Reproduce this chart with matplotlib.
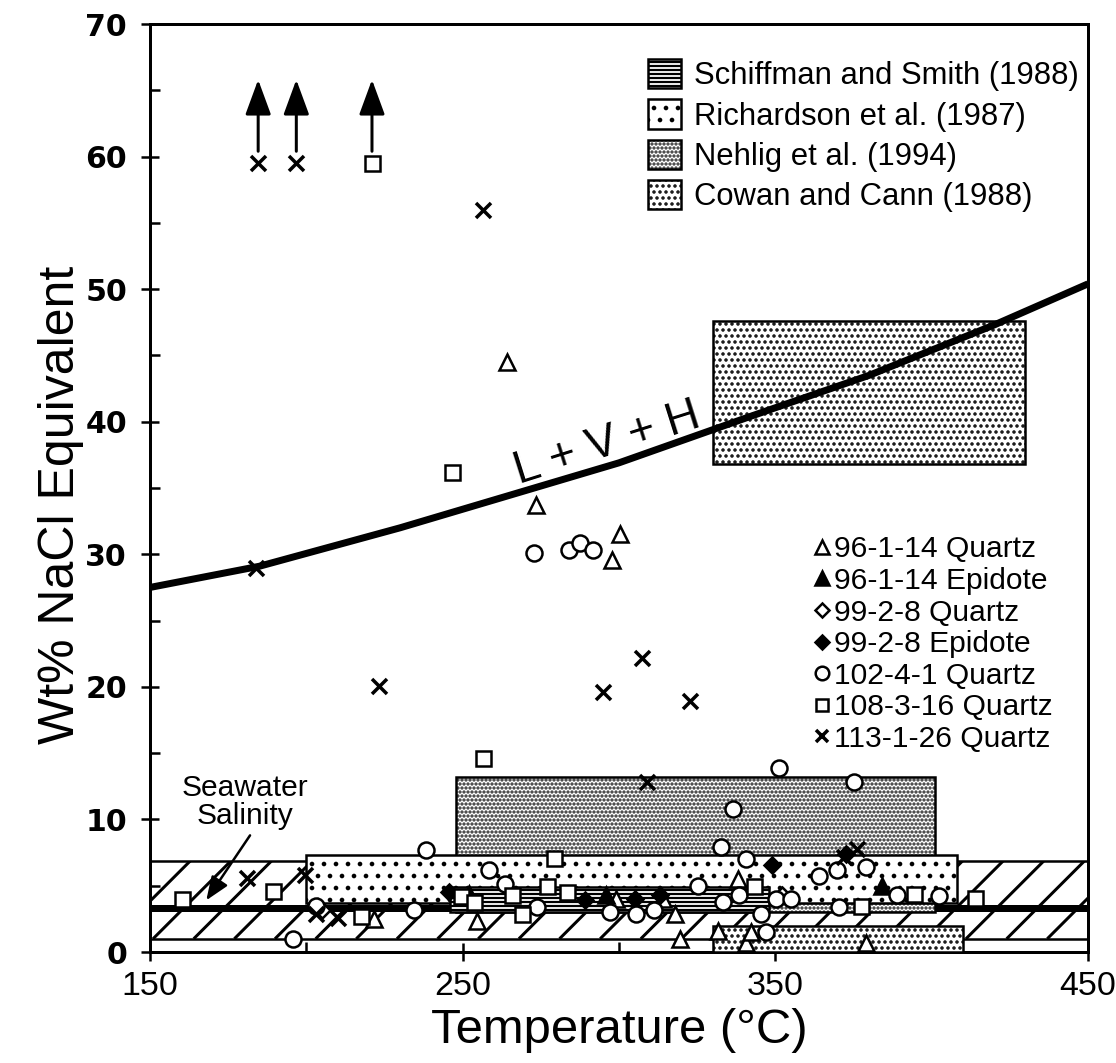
import numpy as np
import matplotlib
matplotlib.use("Agg")
import matplotlib.pyplot as plt
from matplotlib.patches import Rectangle, Patch
from matplotlib.lines import Line2D

plt.rcParams["font.family"] = ["Liberation Sans", "DejaVu Sans"]
plt.rcParams["hatch.linewidth"] = 2.2

# ---------------- data ----------------
# L + V + H (halite saturation) curve
curve_T = [150, 185, 230, 270, 300, 342, 380, 420, 450]
curve_W = [27.5, 29.1, 32.0, 34.8, 36.9, 40.4, 43.5, 47.3, 50.4]

# fields from the literature: (T min, T max, W min, W max)
schiffman_boxes = [(246, 348, 3.0, 4.9)]
richardson_boxes = [(200, 408, 3.7, 7.3)]
nehlig_boxes = [(248, 401, 3.0, 13.2)]
cowan_boxes = [(330, 430, 36.8, 47.6), (330, 410, 0.0, 2.0)]
vent_band = (150, 450, 1.0, 6.9)
seawater_W = 3.3

# fluid inclusions
q96_T = [264.3, 273.6, 300.3, 297.9, 221.7, 254.7, 299.2, 314.1, 317.8, 319.4,
         331.6, 338.0, 340.6, 342.2, 378.9]
q96_W = [44.5, 33.7, 31.5, 29.6, 2.5, 2.35, 4.0, 4.0, 2.9, 1.0,
         1.6, 5.5, 0.7, 1.5, 0.7]

e96_T = [384.2, 252.0, 296.0]
e96_W = [5.0, 4.4, 4.3]

q99_T = [205.0, 352.0]
q99_W = [3.2, 4.3]

e99_T = [245.5, 289.0, 305.0, 313.0, 349.0, 372.5]
e99_W = [4.5, 3.9, 4.0, 4.3, 6.6, 7.4]

c102_T = [272.7, 283.9, 287.6, 291.6, 238.2, 258.4, 263.7, 273.8, 203.2, 234.5,
          195.8, 297.1, 305.6, 311.1, 325.3, 333.2, 338.5, 340.7, 332.7, 336.4,
          345.4, 347.0, 350.2, 355.0, 364.0, 369.8, 370.4, 378.9, 388.9, 375.2,
          351.3, 402.2]
c102_W = [30.1, 30.3, 30.85, 30.3, 7.7, 6.2, 5.1, 3.4, 3.5, 3.2,
          1.0, 3.0, 2.9, 3.2, 5.0, 3.8, 4.3, 7.0, 7.9, 10.8,
          2.9, 1.5, 4.0, 4.0, 5.7, 6.2, 3.4, 6.4, 4.3, 12.8,
          13.9, 4.2]

s108_T = [221.0, 246.6, 256.4, 160.2, 189.5, 217.5, 249.4, 253.6, 265.8, 269.0,
          279.1, 277.0, 283.3, 343.3, 377.3, 413.9, 394.3]
s108_W = [59.5, 36.2, 14.6, 4.0, 4.6, 2.7, 4.2, 3.75, 4.3, 2.9,
          7.1, 5.0, 4.5, 5.0, 3.5, 4.1, 4.4]

x113_T = [184.6, 196.8, 256.5, 184.0, 223.2, 294.9, 307.3, 322.6, 309.0, 180.9,
          199.5, 203.0, 210.1, 372.0, 376.0]
x113_W = [59.5, 59.5, 56.0, 29.0, 20.1, 19.6, 22.2, 18.9, 12.8, 5.6,
          5.8, 2.9, 2.6, 7.2, 7.8]

x_ticks = [150, 250, 350, 450]
y_ticks = [0, 10, 20, 30, 40, 50, 60, 70]

# ---------------- figure ----------------
fig = plt.figure(figsize=(1116 / 72, 1063 / 72), dpi=72)
ax = fig.add_axes([0.1344, 0.1044, 0.8405, 0.873])
ax.set_xlim(150, 450)
ax.set_ylim(0, 70)

# diagonal-hatched band (drawn by hand: matplotlib's '/' is too dense)
bt0, bt1, bw0, bw1 = vent_band
band = Rectangle((bt0, bw0), bt1 - bt0, bw1 - bw0, fill=False,
                 edgecolor="black", lw=2.5, zorder=1)
ax.add_patch(band)
px_per_T = 938 / 300
px_per_W = 928 / 70
dT = (bw1 - bw0) * px_per_W / px_per_T
for t0 in np.arange(bt0 - dT, bt1, 13.0):
    ln, = ax.plot([t0, t0 + dT], [bw0, bw1], color="black", lw=3,
                  solid_capstyle="butt", zorder=1)
    ln.set_clip_path(band)

# seawater salinity
ax.plot([150, 450], [seawater_W, seawater_W], color="black", lw=7,
        solid_capstyle="butt", zorder=2)


def draw_field(boxes, hatch, z):
    for t0, t1, w0, w1 in boxes:
        ax.add_patch(Rectangle((t0, w0), t1 - t0, w1 - w0, facecolor="white",
                               edgecolor="black", hatch=hatch, lw=2.5, zorder=z))


draw_field(nehlig_boxes, "...", 3)
draw_field(richardson_boxes, ".", 4)
draw_field(schiffman_boxes, "---", 5)
draw_field(cowan_boxes, "..", 5)

# L + V + H curve
ax.plot(curve_T, curve_W, color="black", lw=7, solid_joinstyle="round",
        solid_capstyle="butt", zorder=6)
ax.text(268, 35.3, "L + V + H", rotation=17.5, rotation_mode="anchor",
        ha="left", va="baseline", fontsize=46, zorder=7)

# inclusion data
ms, mew = 16, 2.5
series = [
    (q96_T, q96_W, dict(marker="^", mfc="white"), "96-1-14 Quartz"),
    (e96_T, e96_W, dict(marker="^", mfc="black"), "96-1-14 Epidote"),
    (q99_T, q99_W, dict(marker="D", mfc="white", ms=11), "99-2-8 Quartz"),
    (e99_T, e99_W, dict(marker="D", mfc="black", ms=11), "99-2-8 Epidote"),
    (c102_T, c102_W, dict(marker="o", mfc="white"), "102-4-1 Quartz"),
    (s108_T, s108_W, dict(marker="s", mfc="white", ms=15), "108-3-16 Quartz"),
    (x113_T, x113_W, dict(marker="x", ms=15, mew=3.5), "113-1-26 Quartz"),
]
handles = []
for T, W, style, label in series:
    kw = dict(ls="none", mec="black", color="black", ms=ms, mew=mew)
    kw.update(style)
    ax.plot(T, W, zorder=10, **kw)
    handles.append(Line2D([], [], label=label, **kw))
    # values above the plot range are shown with an upward arrow
    for t, w in zip(T, W):
        if w >= 59:
            ax.annotate("", xy=(t, w + 6.3), xytext=(t, w + 0.9),
                        arrowprops=dict(arrowstyle="-|>,head_length=0.6,head_width=0.22",
                                        mutation_scale=50, lw=3, color="black",
                                        shrinkA=0, shrinkB=0), zorder=11)

# seawater label
ax.text(180.3, 9.2, "Seawater\nSalinity", ha="center", va="bottom",
        fontsize=30, linespacing=1.0, zorder=12)
ax.annotate("", xy=(168, 3.9), xytext=(182, 8.8),
            arrowprops=dict(arrowstyle="-|>,head_length=0.5,head_width=0.2",
                            mutation_scale=40, lw=2.5, color="black",
                            shrinkA=0, shrinkB=0), zorder=12)

# legends
field_handles = [
    Patch(facecolor="white", edgecolor="black", hatch="---", lw=2.5,
          label="Schiffman and Smith (1988)"),
    Patch(facecolor="white", edgecolor="black", hatch=".", lw=2.5,
          label="Richardson et al. (1987)"),
    Patch(facecolor="white", edgecolor="black", hatch="...", lw=2.5,
          label="Nehlig et al. (1994)"),
    Patch(facecolor="white", edgecolor="black", hatch="..", lw=2.5,
          label="Cowan and Cann (1988)"),
]
leg1 = ax.legend(handles=field_handles, loc="upper left",
                 bbox_to_anchor=(0.531, 0.962), frameon=False, fontsize=31,
                 handlelength=1.07, handleheight=1.07, handletextpad=0.4,
                 labelspacing=0.26, borderpad=0, borderaxespad=0)
ax.add_artist(leg1)
ax.legend(handles=handles, loc="upper left", bbox_to_anchor=(0.708, 0.449),
          frameon=False, fontsize=30, handlelength=0.55, handletextpad=0.1,
          labelspacing=0.12, borderpad=0, borderaxespad=0, markerscale=0.85)

# axes styling
for sp in ax.spines.values():
    sp.set_linewidth(3)
ax.set_xticks(x_ticks)
ax.set_xticks([200, 300, 400], minor=True)
ax.set_yticks(y_ticks)
ax.set_yticks(np.arange(5, 70, 10), minor=True)
ax.tick_params(which="major", direction="inout", length=18, width=2.5)
ax.tick_params(which="minor", direction="in", length=10, width=2.5)
ax.tick_params(axis="x", which="major", labelsize=34, pad=10)
ax.tick_params(axis="y", which="major", labelsize=30, pad=14)
for lbl in ax.get_yticklabels():
    lbl.set_family("DejaVu Sans")
    lbl.set_weight("bold")

ax.set_xlabel("Temperature (\u00b0C)", fontsize=49, labelpad=6)
ax.set_ylabel("Wt% NaCl Equivalent", fontsize=50)
ax.yaxis.set_label_coords(-0.0704, 0.482)

fig.savefig("out.png", dpi=72)
